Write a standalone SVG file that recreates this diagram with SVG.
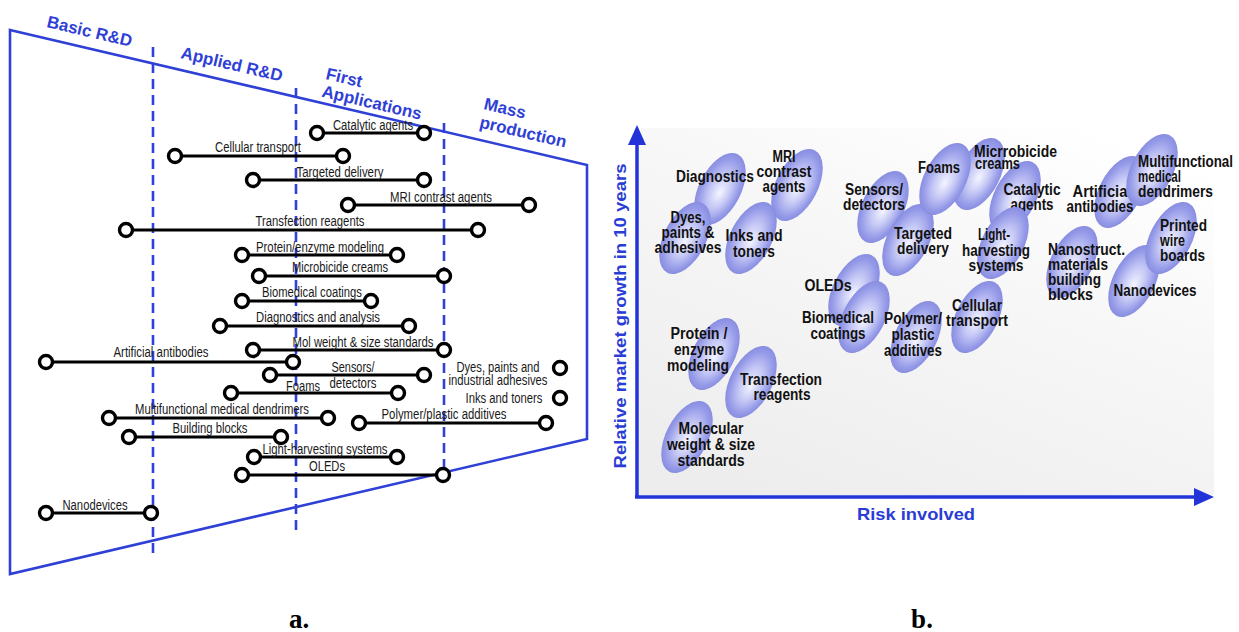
<svg xmlns="http://www.w3.org/2000/svg" width="1239" height="632" viewBox="0 0 1239 632">
<defs>
<linearGradient id="trapFill" x1="10" y1="0" x2="587" y2="0" gradientUnits="userSpaceOnUse">
<stop offset="0" stop-color="#ffffff"/>
<stop offset="0.5" stop-color="#d8ebfd"/>
<stop offset="1" stop-color="#a6d2fa"/>
</linearGradient>
<linearGradient id="panelFill" x1="0.2" y1="1" x2="0.8" y2="0">
<stop offset="0" stop-color="#ededed"/>
<stop offset="0.6" stop-color="#f7f7f7"/>
<stop offset="1" stop-color="#ffffff"/>
</linearGradient>
<radialGradient id="eg" cx="0.5" cy="0.5" r="0.5" fx="0.54" fy="0.55">
<stop offset="0" stop-color="#f4f5ff"/>
<stop offset="0.45" stop-color="#c6c9f5"/>
<stop offset="0.85" stop-color="#959ae8"/>
<stop offset="1" stop-color="#888de0"/>
</radialGradient>
</defs>
<style>
.edge{fill:none;stroke:#2f40d6;stroke-width:2.6}
.dash{fill:none;stroke:#2f40d6;stroke-width:2.6;stroke-dasharray:10 6}
.bar{stroke:#000;stroke-width:3.2}
.dot{fill:#fff;stroke:#000;stroke-width:3.4}
.lbl{font-family:"Liberation Sans",Arial,sans-serif;font-size:14px;fill:#1a1a1a;text-anchor:middle}
.hdr{font-family:"Liberation Sans",Arial,sans-serif;font-size:17px;font-weight:bold;fill:#2f40d6}
.el{fill:url(#eg)}
.nt{font-family:"Liberation Sans",Arial,sans-serif;font-size:16px;font-weight:bold;fill:#111;text-anchor:middle}
.ntl{text-anchor:start}
.axis{stroke:#2233d8;stroke-width:3.5;fill:none}
.axhead{fill:#2233d8}
.axl{font-family:"Liberation Sans",Arial,sans-serif;font-size:17px;font-weight:bold;fill:#2a3cd6;text-anchor:middle}
.cap{font-family:"Liberation Serif","Times New Roman",serif;font-size:27px;font-weight:bold;fill:#000;text-anchor:middle}
</style>

<!-- ===== Panel a ===== -->
<g id="panel-a">
<polygon points="10,30 587,165 587,439 10,574" fill="url(#trapFill)" class="edge"/>
<line class="dash" x1="153" y1="47" x2="153" y2="555"/>
<line class="dash" x1="296" y1="88" x2="296" y2="530"/>
<line class="dash" x1="444" y1="123" x2="444" y2="478"/>
<g id="stage-labels">
<text class="hdr" transform="translate(46,27) rotate(13.17)">Basic R&amp;D</text>
<text class="hdr" transform="translate(180,58) rotate(13.17)">Applied R&amp;D</text>
<text class="hdr" transform="translate(325,79) rotate(13.17)"><tspan x="0" y="0">First</tspan><tspan x="0" y="18">Applications</tspan></text>
<text class="hdr" transform="translate(483,109) rotate(13.17)"><tspan x="0" y="0">Mass</tspan><tspan x="0" y="19">production</tspan></text>
</g>
</g>

<g id="bars">
<g id="bar-catalytic"><line class="bar" x1="317" y1="133" x2="424" y2="133"/><circle class="dot" cx="317" cy="133" r="6.5"/><circle class="dot" cx="424" cy="133" r="6.5"/><text class="lbl" x="373" y="130" textLength="80" lengthAdjust="spacingAndGlyphs">Catalytic agents</text></g>
<g id="bar-cellular"><line class="bar" x1="175" y1="156" x2="343" y2="156"/><circle class="dot" cx="175" cy="156" r="6.5"/><circle class="dot" cx="343" cy="156" r="6.5"/><text class="lbl" x="258" y="152" textLength="86" lengthAdjust="spacingAndGlyphs">Cellular transport</text></g>
<g id="bar-targeted"><line class="bar" x1="253" y1="180" x2="424" y2="180"/><circle class="dot" cx="253" cy="180" r="6.5"/><circle class="dot" cx="424" cy="180" r="6.5"/><text class="lbl" x="340" y="177" textLength="87" lengthAdjust="spacingAndGlyphs">Targeted delivery</text></g>
<g id="bar-mri"><line class="bar" x1="348" y1="205" x2="529" y2="205"/><circle class="dot" cx="348" cy="205" r="6.5"/><circle class="dot" cx="529" cy="205" r="6.5"/><text class="lbl" x="441" y="202" textLength="102" lengthAdjust="spacingAndGlyphs">MRI contrast agents</text></g>
<g id="bar-transfection"><line class="bar" x1="126" y1="230" x2="478" y2="230"/><circle class="dot" cx="126" cy="230" r="6.5"/><circle class="dot" cx="478" cy="230" r="6.5"/><text class="lbl" x="310" y="226" textLength="109" lengthAdjust="spacingAndGlyphs">Transfection reagents</text></g>
<g id="bar-protein"><line class="bar" x1="242" y1="255" x2="397" y2="255"/><circle class="dot" cx="242" cy="255" r="6.5"/><circle class="dot" cx="397" cy="255" r="6.5"/><text class="lbl" x="320" y="252" textLength="128" lengthAdjust="spacingAndGlyphs">Protein/enzyme modeling</text></g>
<g id="bar-microbicide"><line class="bar" x1="259" y1="276" x2="444" y2="276"/><circle class="dot" cx="259" cy="276" r="6.5"/><circle class="dot" cx="444" cy="276" r="6.5"/><text class="lbl" x="340" y="272" textLength="96" lengthAdjust="spacingAndGlyphs">Microbicide creams</text></g>
<g id="bar-biomedical"><line class="bar" x1="242" y1="301" x2="371" y2="301"/><circle class="dot" cx="242" cy="301" r="6.5"/><circle class="dot" cx="371" cy="301" r="6.5"/><text class="lbl" x="312" y="297" textLength="100" lengthAdjust="spacingAndGlyphs">Biomedical coatings</text></g>
<g id="bar-diagnostics"><line class="bar" x1="220" y1="326" x2="409" y2="326"/><circle class="dot" cx="220" cy="326" r="6.5"/><circle class="dot" cx="409" cy="326" r="6.5"/><text class="lbl" x="318" y="322" textLength="124" lengthAdjust="spacingAndGlyphs">Diagnostics and analysis</text></g>
<g id="bar-molweight"><line class="bar" x1="253" y1="350" x2="444" y2="350"/><circle class="dot" cx="253" cy="350" r="6.5"/><circle class="dot" cx="444" cy="350" r="6.5"/><text class="lbl" x="363" y="347" textLength="141" lengthAdjust="spacingAndGlyphs">Mol weight &amp; size standards</text></g>
<g id="bar-antibodies"><line class="bar" x1="46" y1="362" x2="293" y2="362"/><circle class="dot" cx="46" cy="362" r="6.5"/><circle class="dot" cx="293" cy="362" r="6.5"/><text class="lbl" x="161" y="357" textLength="95" lengthAdjust="spacingAndGlyphs">Artificial antibodies</text></g>
<g id="bar-sensors"><line class="bar" x1="270" y1="375" x2="424" y2="375"/><circle class="dot" cx="270" cy="375" r="6.5"/><circle class="dot" cx="424" cy="375" r="6.5"/><text class="lbl" x="353" y="372" textLength="43" lengthAdjust="spacingAndGlyphs">Sensors/</text><text class="lbl" x="353" y="388" textLength="47" lengthAdjust="spacingAndGlyphs">detectors</text></g>
<g id="bar-foams"><line class="bar" x1="231" y1="393" x2="398" y2="393"/><circle class="dot" cx="231" cy="393" r="6.5"/><circle class="dot" cx="398" cy="393" r="6.5"/><text class="lbl" x="303" y="391" textLength="34" lengthAdjust="spacingAndGlyphs">Foams</text></g>
<g id="bar-dyes"><circle class="dot" cx="560" cy="368" r="6.5"/><text class="lbl" x="498" y="372" textLength="83" lengthAdjust="spacingAndGlyphs">Dyes, paints and</text><text class="lbl" x="498" y="385" textLength="99" lengthAdjust="spacingAndGlyphs">industrial adhesives</text></g>
<g id="bar-inks"><circle class="dot" cx="560" cy="398" r="6.5"/><text class="lbl" x="504" y="403" textLength="77" lengthAdjust="spacingAndGlyphs">Inks and toners</text></g>
<g id="bar-dendrimers"><line class="bar" x1="109" y1="418" x2="328" y2="418"/><circle class="dot" cx="109" cy="418" r="6.5"/><circle class="dot" cx="328" cy="418" r="6.5"/><text class="lbl" x="222" y="414" textLength="174" lengthAdjust="spacingAndGlyphs">Multifunctional medical dendrimers</text></g>
<g id="bar-polymer"><line class="bar" x1="359" y1="423" x2="546" y2="423"/><circle class="dot" cx="359" cy="423" r="6.5"/><circle class="dot" cx="546" cy="423" r="6.5"/><text class="lbl" x="444" y="419" textLength="125" lengthAdjust="spacingAndGlyphs">Polymer/plastic additives</text></g>
<g id="bar-building"><line class="bar" x1="129" y1="437" x2="281" y2="437"/><circle class="dot" cx="129" cy="437" r="6.5"/><circle class="dot" cx="281" cy="437" r="6.5"/><text class="lbl" x="210" y="433" textLength="75" lengthAdjust="spacingAndGlyphs">Building blocks</text></g>
<g id="bar-light"><line class="bar" x1="254" y1="457" x2="397" y2="457"/><circle class="dot" cx="254" cy="457" r="6.5"/><circle class="dot" cx="397" cy="457" r="6.5"/><text class="lbl" x="325" y="454" textLength="125" lengthAdjust="spacingAndGlyphs">Light-harvesting systems</text></g>
<g id="bar-oleds"><line class="bar" x1="242" y1="475" x2="443" y2="475"/><circle class="dot" cx="242" cy="475" r="6.5"/><circle class="dot" cx="443" cy="475" r="6.5"/><text class="lbl" x="327" y="471" textLength="36" lengthAdjust="spacingAndGlyphs">OLEDs</text></g>
<g id="bar-nanodevices"><line class="bar" x1="46" y1="513" x2="151" y2="513"/><circle class="dot" cx="46" cy="513" r="6.5"/><circle class="dot" cx="151" cy="513" r="6.5"/><text class="lbl" x="95" y="510" textLength="65" lengthAdjust="spacingAndGlyphs">Nanodevices</text></g>
</g>

<text class="cap" x="299" y="628">a.</text>

<!-- ===== Panel b ===== -->
<rect x="639" y="128" width="575" height="367" fill="url(#panelFill)"/>

<g id="axes">
<line class="axis" x1="637" y1="497" x2="637" y2="140"/>
<polygon class="axhead" points="637,125 646,145 628,145"/>
<line class="axis" x1="635" y1="497" x2="1198" y2="497"/>
<polygon class="axhead" points="1214,497 1194,488 1194,506"/>
<text class="axl" transform="translate(626,316) rotate(-90)" textLength="305" lengthAdjust="spacingAndGlyphs">Relative market growth in 10 years</text>
<text class="axl" x="916" y="520" textLength="118" lengthAdjust="spacingAndGlyphs">Risk involved</text>
</g>

<g id="nodes">
<g id="n-diagnostics"><ellipse class="el" cx="720" cy="189" rx="21" ry="39" transform="rotate(27 720 189)"/>
<text class="nt" x="715" y="182" textLength="78" lengthAdjust="spacingAndGlyphs">Diagnostics</text></g>
<g id="n-mri"><ellipse class="el" cx="797" cy="185" rx="21" ry="39" transform="rotate(27 797 185)"/>
<text class="nt" x="784" y="162" textLength="23" lengthAdjust="spacingAndGlyphs">MRI</text>
<text class="nt" x="784" y="177" textLength="55" lengthAdjust="spacingAndGlyphs">contrast</text>
<text class="nt" x="784" y="192" textLength="43" lengthAdjust="spacingAndGlyphs">agents</text></g>
<g id="n-dyes"><ellipse class="el" cx="685" cy="238" rx="21" ry="39" transform="rotate(27 685 238)"/>
<text class="nt" x="688" y="223" textLength="35" lengthAdjust="spacingAndGlyphs">Dyes,</text>
<text class="nt" x="688" y="238" textLength="53" lengthAdjust="spacingAndGlyphs">paints &amp;</text>
<text class="nt" x="688" y="253" textLength="67" lengthAdjust="spacingAndGlyphs">adhesives</text></g>
<g id="n-inks"><ellipse class="el" cx="751" cy="238" rx="21" ry="39" transform="rotate(27 751 238)"/>
<text class="nt" x="754" y="241" textLength="57" lengthAdjust="spacingAndGlyphs">Inks and</text>
<text class="nt" x="754" y="257" textLength="42" lengthAdjust="spacingAndGlyphs">toners</text></g>
<g id="n-sensors"><ellipse class="el" cx="883" cy="207" rx="21" ry="39" transform="rotate(27 883 207)"/>
<text class="nt" x="874" y="195" textLength="58" lengthAdjust="spacingAndGlyphs">Sensors/</text>
<text class="nt" x="874" y="210" textLength="62" lengthAdjust="spacingAndGlyphs">detectors</text></g>
<g id="n-targeted"><ellipse class="el" cx="908" cy="240" rx="21" ry="39" transform="rotate(27 908 240)"/>
<text class="nt" x="923" y="239" textLength="58" lengthAdjust="spacingAndGlyphs">Targeted</text>
<text class="nt" x="923" y="254" textLength="52" lengthAdjust="spacingAndGlyphs">delivery</text></g>
<g id="n-catalytic"><ellipse class="el" cx="1015" cy="197" rx="21" ry="39" transform="rotate(27 1015 197)"/>
<text class="nt" x="1032" y="195" textLength="57" lengthAdjust="spacingAndGlyphs">Catalytic</text>
<text class="nt" x="1032" y="210" textLength="43" lengthAdjust="spacingAndGlyphs">agents</text></g>
<g id="n-microbicide"><ellipse class="el" cx="979" cy="174" rx="21" ry="39" transform="rotate(27 979 174)"/>
<text class="nt ntl" x="974" y="157" textLength="83" lengthAdjust="spacingAndGlyphs">Micrrobicide</text>
<text class="nt ntl" x="975" y="169" textLength="45" lengthAdjust="spacingAndGlyphs">creams</text></g>
<g id="n-foams"><ellipse class="el" cx="945" cy="179" rx="21" ry="39" transform="rotate(27 945 179)"/>
<text class="nt" x="939" y="173" textLength="42" lengthAdjust="spacingAndGlyphs">Foams</text></g>
<g id="n-light"><ellipse class="el" cx="1003" cy="243" rx="21" ry="39" transform="rotate(27 1003 243)"/>
<text class="nt" x="994" y="240" textLength="32" lengthAdjust="spacingAndGlyphs">Light-</text>
<text class="nt" x="996" y="255.5" textLength="68" lengthAdjust="spacingAndGlyphs">harvesting</text>
<text class="nt" x="996" y="271" textLength="55" lengthAdjust="spacingAndGlyphs">systems</text></g>
<g id="n-oleds"><ellipse class="el" cx="854" cy="290" rx="21" ry="39" transform="rotate(27 854 290)"/>
<text class="nt" x="828" y="291" textLength="47" lengthAdjust="spacingAndGlyphs">OLEDs</text></g>
<g id="n-biomedical"><ellipse class="el" cx="864" cy="317" rx="21" ry="39" transform="rotate(27 864 317)"/>
<text class="nt" x="838" y="323" textLength="72" lengthAdjust="spacingAndGlyphs">Biomedical</text>
<text class="nt" x="838" y="339" textLength="55" lengthAdjust="spacingAndGlyphs">coatings</text></g>
<g id="n-polymer"><ellipse class="el" cx="916" cy="337" rx="21" ry="39" transform="rotate(27 916 337)"/>
<text class="nt" x="913" y="324" textLength="58" lengthAdjust="spacingAndGlyphs">Polymer/</text>
<text class="nt" x="913" y="340" textLength="43" lengthAdjust="spacingAndGlyphs">plastic</text>
<text class="nt" x="913" y="356" textLength="58" lengthAdjust="spacingAndGlyphs">additives</text></g>
<g id="n-cellular"><ellipse class="el" cx="977" cy="317" rx="21" ry="39" transform="rotate(27 977 317)"/>
<text class="nt" x="977" y="311" textLength="50" lengthAdjust="spacingAndGlyphs">Cellular</text>
<text class="nt" x="977" y="326" textLength="62" lengthAdjust="spacingAndGlyphs">transport</text></g>
<g id="n-artificial"><ellipse class="el" cx="1120" cy="192" rx="21" ry="39" transform="rotate(27 1120 192)"/>
<text class="nt" x="1102" y="197" textLength="59" lengthAdjust="spacingAndGlyphs">Artificial</text>
<text class="nt" x="1100" y="212" textLength="67" lengthAdjust="spacingAndGlyphs">antibodies</text></g>
<g id="n-multifunctional"><ellipse class="el" cx="1152" cy="170" rx="21" ry="39" transform="rotate(27 1152 170)"/>
<text class="nt ntl" x="1138" y="167" textLength="95" lengthAdjust="spacingAndGlyphs">Multifunctional</text>
<text class="nt ntl" x="1138" y="182" textLength="43" lengthAdjust="spacingAndGlyphs">medical</text>
<text class="nt ntl" x="1138" y="197" textLength="75" lengthAdjust="spacingAndGlyphs">dendrimers</text></g>
<g id="n-nanostruct"><ellipse class="el" cx="1072" cy="262" rx="21" ry="39" transform="rotate(27 1072 262)"/>
<text class="nt ntl" x="1048" y="255" textLength="77" lengthAdjust="spacingAndGlyphs">Nanostruct.</text>
<text class="nt ntl" x="1048" y="270" textLength="60" lengthAdjust="spacingAndGlyphs">materials</text>
<text class="nt ntl" x="1048" y="285" textLength="53" lengthAdjust="spacingAndGlyphs">building</text>
<text class="nt ntl" x="1048" y="300" textLength="45" lengthAdjust="spacingAndGlyphs">blocks</text></g>
<g id="n-nanodevices"><ellipse class="el" cx="1134" cy="281" rx="21" ry="39" transform="rotate(27 1134 281)"/>
<text class="nt" x="1155" y="296" textLength="83" lengthAdjust="spacingAndGlyphs">Nanodevices</text></g>
<g id="n-printed"><ellipse class="el" cx="1171" cy="238" rx="21" ry="39" transform="rotate(27 1171 238)"/>
<text class="nt ntl" x="1160" y="231" textLength="47" lengthAdjust="spacingAndGlyphs">Printed</text>
<text class="nt ntl" x="1160" y="246" textLength="25" lengthAdjust="spacingAndGlyphs">wire</text>
<text class="nt ntl" x="1160" y="261" textLength="45" lengthAdjust="spacingAndGlyphs">boards</text></g>
<g id="n-protein"><ellipse class="el" cx="714" cy="354" rx="21" ry="39" transform="rotate(27 714 354)"/>
<text class="nt" x="699" y="339" textLength="57" lengthAdjust="spacingAndGlyphs">Protein /</text>
<text class="nt" x="699" y="355" textLength="50" lengthAdjust="spacingAndGlyphs">enzyme</text>
<text class="nt" x="698" y="371" textLength="62" lengthAdjust="spacingAndGlyphs">modeling</text></g>
<g id="n-transfection"><ellipse class="el" cx="751" cy="382" rx="21" ry="39" transform="rotate(27 751 382)"/>
<text class="nt" x="781" y="385" textLength="82" lengthAdjust="spacingAndGlyphs">Transfection</text>
<text class="nt" x="782" y="400" textLength="57" lengthAdjust="spacingAndGlyphs">reagents</text></g>
<g id="n-molecular"><ellipse class="el" cx="687" cy="437" rx="21" ry="39" transform="rotate(27 687 437)"/>
<text class="nt" x="711" y="434" textLength="65" lengthAdjust="spacingAndGlyphs">Molecular</text>
<text class="nt" x="711" y="450" textLength="88" lengthAdjust="spacingAndGlyphs">weight &amp; size</text>
<text class="nt" x="711" y="466" textLength="67" lengthAdjust="spacingAndGlyphs">standards</text></g>
</g>

<text class="cap" x="922" y="628">b.</text>
</svg>
